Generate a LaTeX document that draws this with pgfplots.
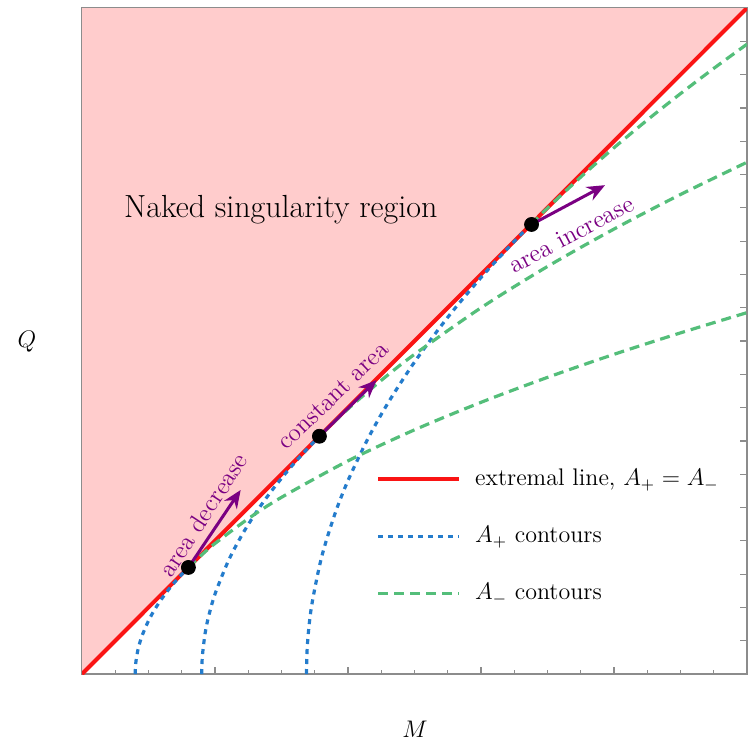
\documentclass[border=0pt]{standalone}
\usepackage{pgfplots}
\pgfplotsset{compat=1.18}
\usetikzlibrary{arrows.meta,calc}
\definecolor{nakedpink}{RGB}{255,204,204}
\definecolor{extred}{RGB}{250,20,20}
\definecolor{plusblue}{RGB}{36,124,204}
\definecolor{minusgreen}{RGB}{84,190,122}
\definecolor{arrowpurple}{RGB}{122,0,130}
\definecolor{framegray}{RGB}{140,140,140}

\begin{document}
\begin{tikzpicture}
\begin{axis}[
name=ax,
scale only axis,
width=332.5pt,height=333pt,
xmin=0,xmax=1,ymin=0,ymax=1,
xtick={0,0.2,0.4,0.6,0.8,1},minor x tick num=3,
ytick={0,0.05,...,1.01},
xticklabels={},yticklabels={},
major tick length=3.5pt,minor tick length=2pt,
tick style={framegray,line width=0.6pt},
axis line style={framegray,line width=0.7pt},
xlabel={$M$},ylabel={$Q$},
label style={font=\fontsize{12}{14}\selectfont},
xlabel style={at={(axis description cs:0.5008,-0.083)},anchor=center},
ylabel style={at={(axis description cs:-0.0827,0.4985)},anchor=center,rotate=-90},
legend style={draw=none,fill=none,at={(axis cs:0.433,0.320)},anchor=north west,
  font=\fontsize{12}{14}\selectfont,row sep=14.8pt,
  /tikz/every even column/.append style={column sep=4pt}},
legend cell align=left,
legend image code/.code={\draw[#1] (0cm,0cm) -- (1.42cm,0cm);},
legend style={/tikz/every odd column/.append style={column sep=5pt}},
]
% naked singularity region Q > M
\addplot[fill=nakedpink,draw=none,forget plot] coordinates {(0,0) (1,1) (0,1)} --cycle;

% extremal line
\addplot[extred,line width=2pt] coordinates {(0,0) (1,1)};
\addlegendentry{extremal line, $A_+ = A_-$}

% A+ contours (r+ = const), branch below tangent point
\addplot[plusblue,line width=1.6pt,dash pattern=on 2.5pt off 2.5pt,smooth] coordinates {
(0.08,0) (0.0805,0.0126) (0.082,0.0253) (0.085,0.04) (0.09,0.0566) (0.10,0.08)
(0.11,0.098) (0.12,0.1131) (0.13,0.1265) (0.14,0.1386) (0.15,0.1497) (0.16,0.16)};
\addlegendentry{$A_+$ contours}
\addplot[plusblue,line width=1.6pt,dash pattern=on 2.5pt off 2.5pt,smooth,forget plot] coordinates {
(0.18,0) (0.181,0.0268) (0.185,0.06) (0.19,0.0849) (0.2,0.12) (0.22,0.1697)
(0.24,0.2078) (0.26,0.24) (0.28,0.2683) (0.30,0.2939) (0.32,0.3175) (0.34,0.3394) (0.36,0.36)};
\addplot[plusblue,line width=1.6pt,dash pattern=on 2.5pt off 2.5pt,smooth,forget plot] coordinates {
(0.3375,0) (0.339,0.045) (0.345,0.1006) (0.36,0.1743) (0.38,0.2395) (0.40,0.2905)
(0.43,0.3534) (0.46,0.4067) (0.50,0.4684) (0.55,0.5356) (0.60,0.5953) (0.65,0.6495) (0.675,0.675)};

% A- contours (r- = const), branch beyond tangent point
\addplot[minusgreen,line width=1.6pt,dash pattern=on 5pt off 3pt,smooth] coordinates {
(0.16,0.16) (0.18,0.1789) (0.2,0.196) (0.25,0.2332) (0.3,0.2653) (0.4,0.32) (0.5,0.3666)
(0.6,0.4079) (0.7,0.4454) (0.8,0.48) (0.9,0.5122) (1.0,0.5426)};
\addlegendentry{$A_-$ contours}
\addplot[minusgreen,line width=1.6pt,dash pattern=on 5pt off 3pt,smooth,forget plot] coordinates {
(0.36,0.36) (0.4,0.398) (0.45,0.4409) (0.5,0.48) (0.6,0.5499) (0.7,0.6119)
(0.8,0.6681) (0.9,0.72) (1.0,0.7684)};
\addplot[minusgreen,line width=1.6pt,dash pattern=on 5pt off 3pt,smooth,forget plot] coordinates {
(0.675,0.675) (0.7,0.6996) (0.75,0.7462) (0.8,0.7902) (0.85,0.8318) (0.9,0.8714)
(0.95,0.9093) (1.0,0.9457)};

% arrows
\addplot[arrowpurple,line width=1.5pt,-{Stealth[length=9pt,width=7.5pt]},forget plot] coordinates {(0.16,0.16) (0.2386,0.2763)};
\addplot[arrowpurple,line width=1.5pt,-{Stealth[length=9pt,width=7.5pt]},forget plot] coordinates {(0.357,0.357) (0.443,0.4414)};
\addplot[arrowpurple,line width=1.5pt,-{Stealth[length=9pt,width=7.5pt]},forget plot] coordinates {(0.676,0.675) (0.7865,0.734)};

% tangent points
\addplot[only marks,mark=*,mark size=3.5pt,black,forget plot] coordinates {(0.16,0.16) (0.357,0.357) (0.676,0.675)};

\node[font=\fontsize{16}{19}\selectfont] at (axis cs:0.299,0.697) {Naked singularity region};
\node[font=\fontsize{12.5}{14}\selectfont,text=arrowpurple,rotate=56.8] at (axis cs:0.182,0.239) {area decrease};
\node[font=\fontsize{12.5}{14}\selectfont,text=arrowpurple,rotate=44] at (axis cs:0.378,0.418) {constant area};
\node[font=\fontsize{12.5}{14}\selectfont,text=arrowpurple,rotate=28] at (axis cs:0.736,0.660) {area increase};
\end{axis}
\pgfresetboundingbox
\path[use as bounding box] ($(ax.south west)+(-41pt,-33.5pt)$) rectangle ($(ax.south west)+(336pt,337pt)$);
\end{tikzpicture}
\end{document}
